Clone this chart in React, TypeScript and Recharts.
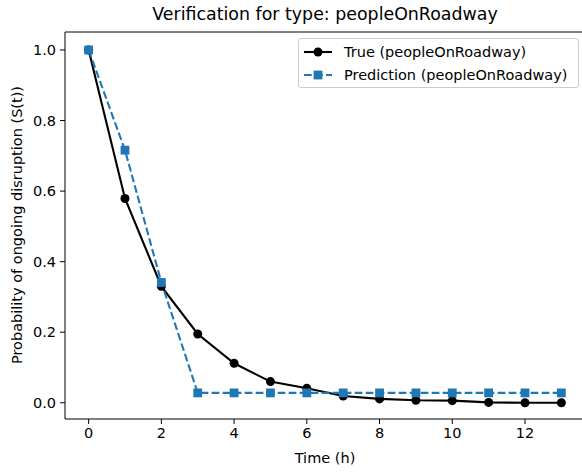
import React from "react";
import { LineChart, Line, XAxis, YAxis, ReferenceLine } from "recharts";

const times = [0, 1, 2, 3, 4, 5, 6, 7, 8, 9, 10, 11, 12, 13];
const trueValues = [1.0, 0.579, 0.33, 0.195, 0.112, 0.06, 0.041, 0.019, 0.011, 0.007, 0.006, 0.001, 0.0, 0.0];
const predValues = [1.0, 0.716, 0.341, 0.028, 0.028, 0.028, 0.028, 0.028, 0.028, 0.028, 0.028, 0.028, 0.028, 0.028];
const xTicks = [0, 2, 4, 6, 8, 10, 12];
const yTicks = [0, 0.2, 0.4, 0.6, 0.8, 1.0];

const TITLE = "Verification for type: peopleOnRoadway";
const TRUE_NAME = "True (peopleOnRoadway)";
const PRED_NAME = "Prediction (peopleOnRoadway)";
const BLUE = "#1f77b4";
const FONT = "'DejaVu Sans', sans-serif";
const FS = 14.5;

const X_DOMAIN = [-0.65, 13.65];
const Y_DOMAIN = [-0.046, 1.051];

const data = times.map((t, i) => ({ t, trueV: trueValues[i], predV: predValues[i] }));

const SquareDot = (props: any) => {
  const { cx, cy, index } = props;
  if (cx == null || cy == null) return <g key={index} />;
  return <rect key={index} x={cx - 4.4} y={cy - 4.4} width={8.8} height={8.8} fill={BLUE} />;
};

const LegendBox = () => (
  <div
    style={{
      position: "absolute",
      left: 298,
      top: 38,
      width: 281,
      height: 50,
      border: "1px solid #cccccc",
      borderRadius: 3,
      background: "rgba(255,255,255,0.8)",
      fontFamily: FONT,
      fontSize: FS,
      color: "#000",
      boxSizing: "border-box",
      padding: "1px 0 0 4px",
    }}
  >
    <div style={{ display: "flex", alignItems: "center", height: 23 }}>
      <svg width={30} height={12} style={{ marginRight: 11 }}>
        <line x1={1} y1={6} x2={29} y2={6} stroke="#000" strokeWidth={2.1} />
        <circle cx={15} cy={6} r={4.5} fill="#000" />
      </svg>
      <span>{TRUE_NAME}</span>
    </div>
    <div style={{ display: "flex", alignItems: "center", height: 23 }}>
      <svg width={30} height={12} style={{ marginRight: 11 }}>
        <line x1={1} y1={6} x2={29} y2={6} stroke={BLUE} strokeWidth={2.1} strokeDasharray="7.7 3.3" />
        <rect x={10.6} y={1.6} width={8.8} height={8.8} fill={BLUE} />
      </svg>
      <span>{PRED_NAME}</span>
    </div>
  </div>
);

export default function App() {
  return (
    <div style={{ position: "absolute", left: 0, top: 0, width: 582, height: 473, overflow: "hidden", background: "#fff" }}>
      <div
        style={{
          position: "absolute",
          left: 0,
          width: 650,
          top: 4,
          textAlign: "center",
          fontFamily: FONT,
          fontSize: 17.4,
          color: "#000",
          lineHeight: "20px",
        }}
      >
        {TITLE}
      </div>
      <div
        style={{
          position: "absolute",
          left: 0,
          width: 650,
          top: 449,
          textAlign: "center",
          fontFamily: FONT,
          fontSize: FS,
          color: "#000",
          lineHeight: "18px",
        }}
      >
        Time (h)
      </div>
      <div
        style={{
          position: "absolute",
          left: 17 - 200,
          top: 225 - 9,
          width: 400,
          height: 18,
          lineHeight: "18px",
          textAlign: "center",
          transform: "rotate(-90deg)",
          fontFamily: FONT,
          fontSize: FS,
          color: "#000",
        }}
      >
        Probability of ongoing disruption (S(t))
      </div>
      <div style={{ position: "absolute", left: 0, top: 0 }}>
        <LineChart width={600} height={473} data={data} margin={{ top: 32, right: 15, bottom: 0, left: 0 }}>
          <XAxis
            dataKey="t"
            type="number"
            domain={X_DOMAIN}
            ticks={xTicks}
            allowDataOverflow
            height={54}
            stroke="#000"
            tickSize={5}
            tickMargin={4}
            tick={{ fill: "#000", fontFamily: FONT, fontSize: FS }}
          />
          <YAxis
            type="number"
            domain={Y_DOMAIN}
            ticks={yTicks}
            allowDataOverflow
            width={65}
            stroke="#000"
            tickSize={5}
            tickMargin={4}
            tickFormatter={(v: number) => v.toFixed(1)}
            tick={{ fill: "#000", fontFamily: FONT, fontSize: FS }}
          />
          <ReferenceLine y={Y_DOMAIN[1]} stroke="#000" strokeWidth={1} ifOverflow="visible" />
          <ReferenceLine x={X_DOMAIN[1]} stroke="#000" strokeWidth={1} ifOverflow="visible" />
          <Line
            dataKey="trueV"
            name={TRUE_NAME}
            stroke="#000"
            strokeWidth={2.1}
            isAnimationActive={false}
            dot={{ r: 4.5, fill: "#000", stroke: "#000", strokeWidth: 0 }}
            activeDot={false}
          />
          <Line
            dataKey="predV"
            name={PRED_NAME}
            stroke={BLUE}
            strokeWidth={2.1}
            strokeDasharray="7.7 3.3"
            isAnimationActive={false}
            dot={SquareDot}
            activeDot={false}
          />
        </LineChart>
      </div>
      <LegendBox />
    </div>
  );
}
